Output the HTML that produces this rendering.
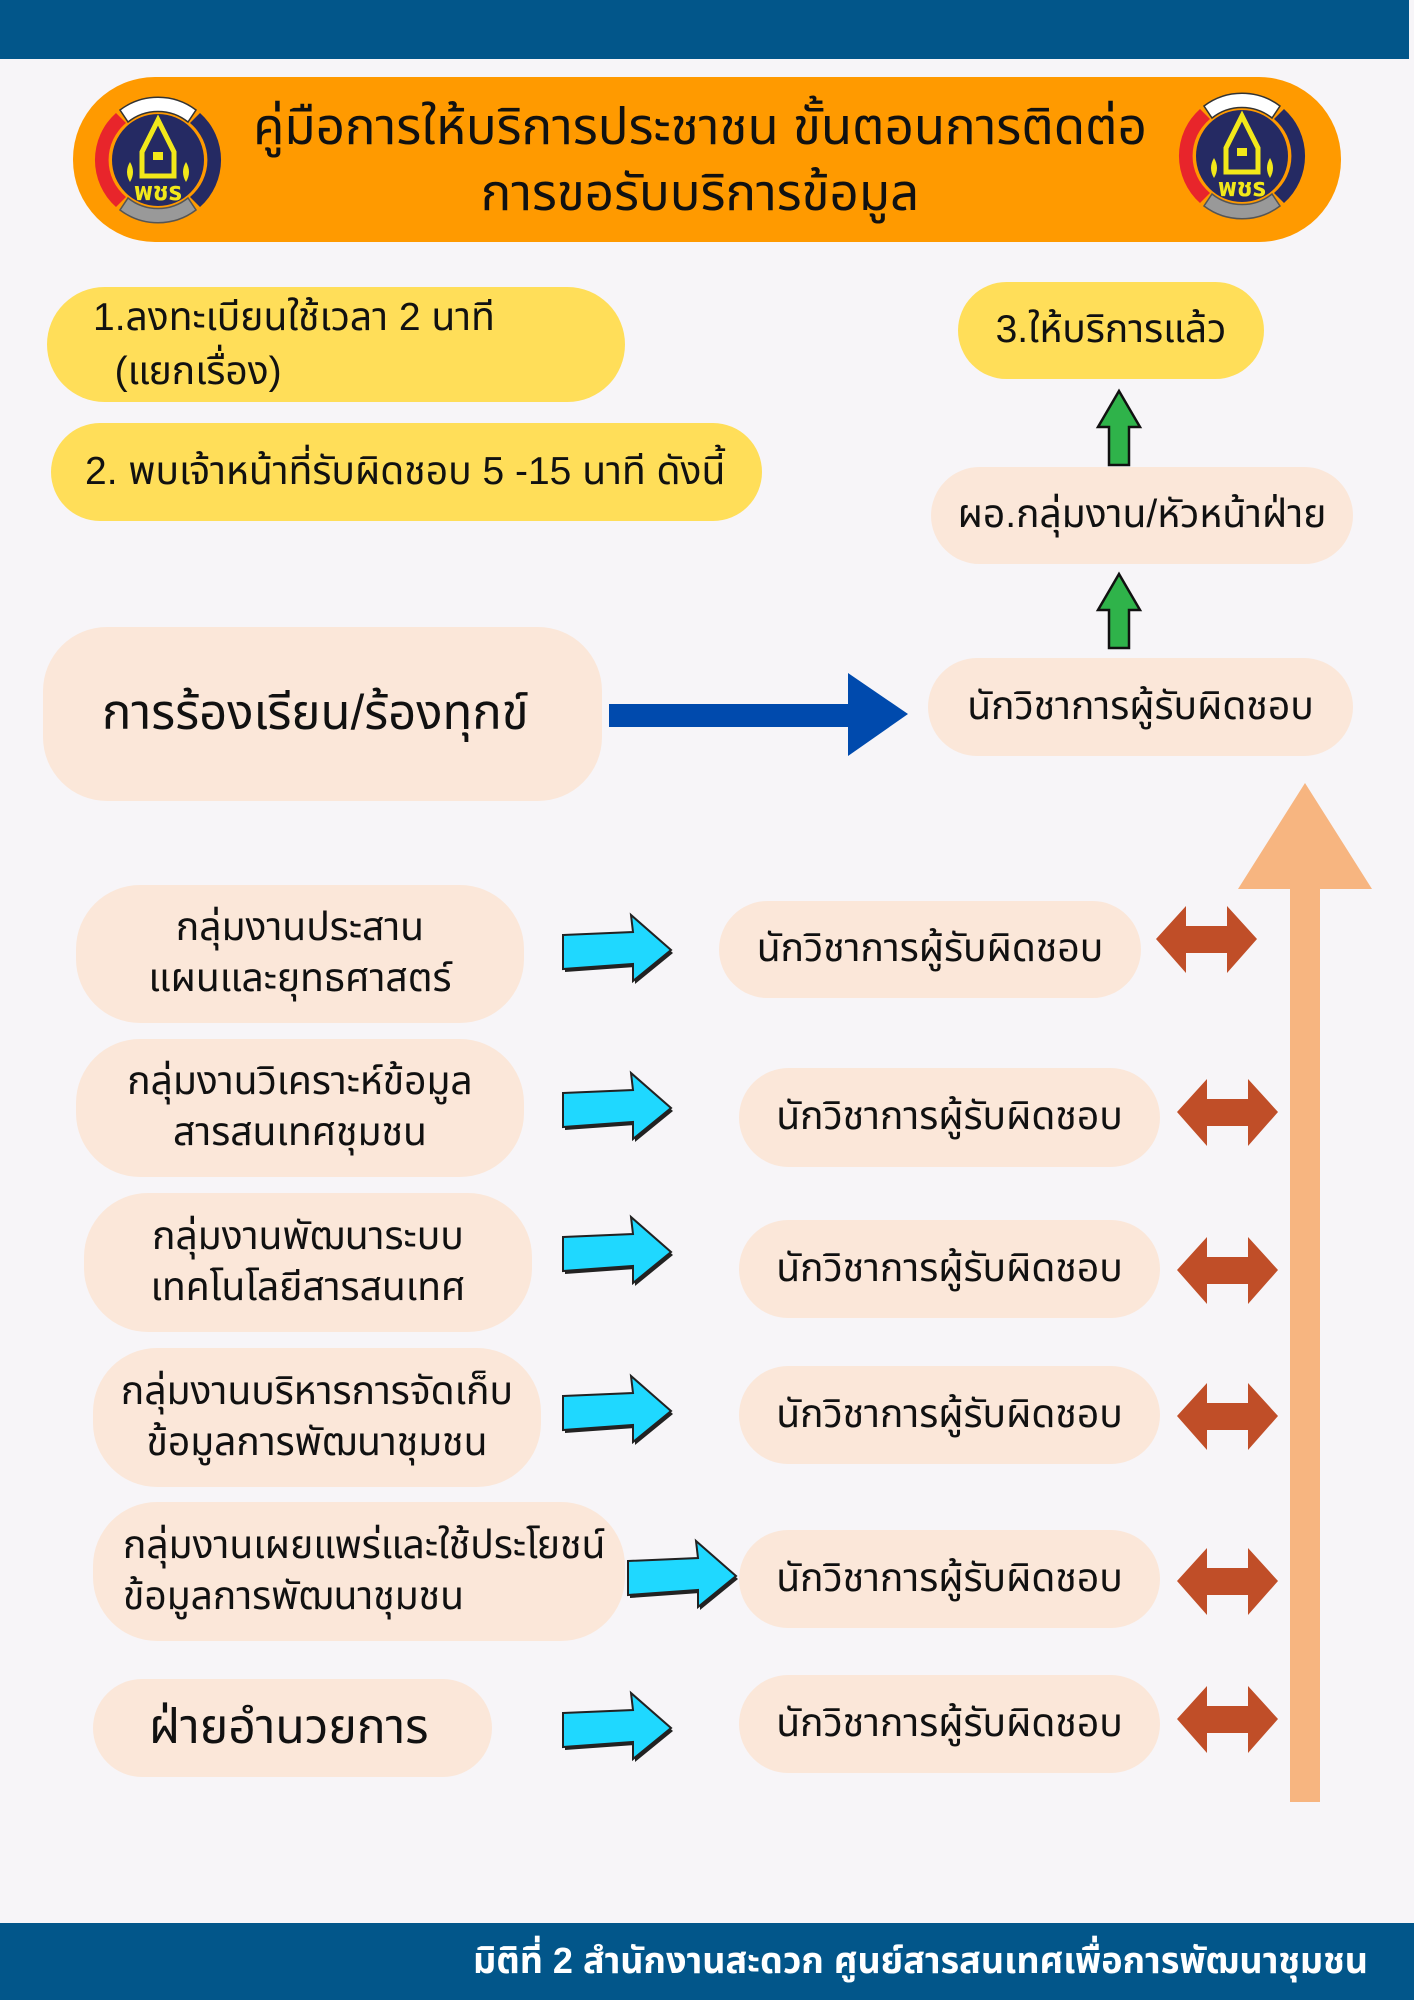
<!DOCTYPE html>
<html><head><meta charset="utf-8"><style>
*{margin:0;padding:0;box-sizing:border-box}
body{width:1414px;height:2000px;background:#f7f5f8;position:relative;overflow:hidden;font-family:"Liberation Sans","Noto Sans Thai","Loma","Garuda",sans-serif;color:#111}
.a{position:absolute}
.pill{position:absolute;background:#fbe7d9;border-radius:50px;display:flex;align-items:center;justify-content:center;text-align:center;font-size:39px;line-height:1.3;white-space:nowrap}
.y{background:#ffde59}
svg{position:absolute;overflow:visible}
</style></head><body>
<div class="a" style="left:0;top:0;width:1409px;height:59px;background:#02568a"></div>
<div class="a" style="left:0;top:1923px;width:1414px;height:77px;background:#02568a"></div>
<div class="a" style="right:46px;top:1938px;color:#fff;font-weight:bold;font-size:36px;line-height:46px;white-space:nowrap">มิติที่ 2 สำนักงานสะดวก ศูนย์สารสนเทศเพื่อการพัฒนาชุมชน</div>

<div class="a" style="left:73px;top:77px;width:1268px;height:165px;background:#ff9a00;border-radius:82px"></div>
<div class="a" style="left:200px;top:94px;width:1000px;text-align:center;font-size:51px;line-height:66px;white-space:nowrap">คู่มือการให้บริการประชาชน ขั้นตอนการติดต่อ<br>การขอรับบริการข้อมูล</div>

<svg width="0" height="0"><defs><g id="logo">
<circle r="66" fill="#ff9a00"/>
<path d="M-38,-50 A63,63 0 0 1 38,-50 L30,-38 A48,48 0 0 0 -30,-38Z" fill="#fff" stroke="#333" stroke-width="1.5"/>
<path d="M-42,-47 A63,63 0 0 0 -42,47 L-32,37 A48,48 0 0 1 -32,-37Z" fill="#e8252b"/>
<path d="M42,-47 A63,63 0 0 1 42,47 L32,37 A48,48 0 0 0 32,-37Z" fill="#252a63"/>
<path d="M-38,50 A63,63 0 0 0 38,50 L30,38 A48,48 0 0 1 -30,38Z" fill="#999" stroke="#555" stroke-width="1.5"/>
<circle r="46" fill="#252a63"/>
<path d="M0,-40 L-16,-8 L-16,16 L16,16 L16,-8Z" fill="none" stroke="#f2e81a" stroke-width="5"/>
<rect x="-5" y="-8" width="10" height="8" fill="#f2e81a"/>
<path d="M-28,22 q-6,-10 0,-20 q6,10 0,20M28,22 q-6,-10 0,-20 q6,10 0,20" fill="#f2e81a"/>
<text x="0" y="40" text-anchor="middle" font-size="26" font-weight="bold" fill="#f2e81a">พชร</text>
</g></defs></svg>
<svg width="140" height="140" style="left:88px;top:90px" viewBox="-70 -70 140 140"><use href="#logo"/></svg>
<svg width="140" height="140" style="left:1172px;top:86px" viewBox="-70 -70 140 140"><use href="#logo"/></svg>

<div class="pill y" style="left:47px;top:287px;width:578px;height:115px;justify-content:flex-start;padding-left:46px;text-align:left;line-height:54px;border-radius:58px">1.ลงทะเบียนใช้เวลา 2 นาที<br>&nbsp;&nbsp;(แยกเรื่อง)</div>
<div class="pill y" style="left:51px;top:423px;width:711px;height:98px;justify-content:flex-start;padding-left:34px;border-radius:49px">2. พบเจ้าหน้าที่รับผิดชอบ 5 -15 นาที ดังนี้</div>
<div class="pill y" style="left:958px;top:282px;width:306px;height:97px;border-radius:49px">3.ให้บริการแล้ว</div>

<div class="pill" style="left:931px;top:467px;width:422px;height:97px">ผอ.กลุ่มงาน/หัวหน้าฝ่าย</div>
<div class="pill" style="left:928px;top:658px;width:425px;height:98px">นักวิชาการผู้รับผิดชอบ</div>
<div class="pill" style="left:43px;top:627px;width:559px;height:174px;border-radius:64px;justify-content:flex-start;padding-left:59px;font-size:49px">การร้องเรียน/ร้องทุกข์</div>

<svg width="50" height="78" style="left:1094px;top:389px" viewBox="0 0 50 78"><polygon points="25,2 46,38 35,38 35,76 15,76 15,38 4,38" fill="#2fb34a" stroke="#111" stroke-width="2.5"/></svg>
<svg width="50" height="78" style="left:1094px;top:572px" viewBox="0 0 50 78"><polygon points="25,2 46,38 35,38 35,76 15,76 15,38 4,38" fill="#2fb34a" stroke="#111" stroke-width="2.5"/></svg>

<svg width="300" height="84" style="left:609px;top:673px"><polygon points="0,31 239,31 239,0 299,41 239,83 239,54 0,54" fill="#004aad"/></svg>

<svg width="134" height="1020" style="left:1238px;top:783px"><polygon points="67,0 134,106 82,106 82,1019 52,1019 52,106 0,106" fill="#f7b580"/></svg>

<div class="pill" style="left:76px;top:885px;width:448px;height:138px;border-radius:64px">กลุ่มงานประสาน<br>แผนและยุทธศาสตร์</div>
<div class="pill" style="left:76px;top:1039px;width:448px;height:138px;border-radius:64px">กลุ่มงานวิเคราะห์ข้อมูล<br>สารสนเทศชุมชน</div>
<div class="pill" style="left:84px;top:1193px;width:448px;height:139px;border-radius:64px">กลุ่มงานพัฒนาระบบ<br>เทคโนโลยีสารสนเทศ</div>
<div class="pill" style="left:93px;top:1348px;width:448px;height:139px;border-radius:64px">กลุ่มงานบริหารการจัดเก็บ<br>ข้อมูลการพัฒนาชุมชน</div>
<div class="pill" style="left:93px;top:1502px;width:532px;height:139px;border-radius:64px;justify-content:flex-start;text-align:left;padding-left:30px">กลุ่มงานเผยแพร่และใช้ประโยชน์<br>ข้อมูลการพัฒนาชุมชน</div>
<div class="pill" style="left:93px;top:1679px;width:399px;height:98px;justify-content:flex-start;padding-left:56px;font-size:48px">ฝ่ายอำนวยการ</div>

<div class="pill" style="left:719px;top:901px;width:422px;height:97px">นักวิชาการผู้รับผิดชอบ</div>
<div class="pill" style="left:739px;top:1068px;width:421px;height:99px">นักวิชาการผู้รับผิดชอบ</div>
<div class="pill" style="left:739px;top:1220px;width:421px;height:98px">นักวิชาการผู้รับผิดชอบ</div>
<div class="pill" style="left:739px;top:1366px;width:421px;height:98px">นักวิชาการผู้รับผิดชอบ</div>
<div class="pill" style="left:739px;top:1530px;width:421px;height:98px">นักวิชาการผู้รับผิดชอบ</div>
<div class="pill" style="left:739px;top:1675px;width:421px;height:98px">นักวิชาการผู้รับผิดชอบ</div>

<svg width="0" height="0"><defs>
<g id="cy"><polygon transform="translate(2,3)" points="2,22 72,19 70,2 110,37 72,68 72,51 2,56" fill="#222"/><polygon points="2,22 72,19 70,2 110,37 72,68 72,51 2,56" fill="#1fd8ff" stroke="#222" stroke-width="2"/></g>
<polygon id="dbl" points="0,33 30,0 30,20 71,20 71,0 101,33 71,67 71,47 30,47 30,67" fill="#c04e28"/>
</defs></svg>
<svg width="114" height="72" style="left:561px;top:913px"><use href="#cy"/></svg>
<svg width="114" height="72" style="left:561px;top:1071px"><use href="#cy"/></svg>
<svg width="114" height="72" style="left:561px;top:1215px"><use href="#cy"/></svg>
<svg width="114" height="72" style="left:561px;top:1374px"><use href="#cy"/></svg>
<svg width="114" height="72" style="left:626px;top:1539px"><use href="#cy"/></svg>
<svg width="114" height="72" style="left:561px;top:1691px"><use href="#cy"/></svg>

<svg width="102" height="68" style="left:1156px;top:906px"><use href="#dbl"/></svg>
<svg width="102" height="68" style="left:1177px;top:1079px"><use href="#dbl"/></svg>
<svg width="102" height="68" style="left:1177px;top:1237px"><use href="#dbl"/></svg>
<svg width="102" height="68" style="left:1177px;top:1383px"><use href="#dbl"/></svg>
<svg width="102" height="68" style="left:1177px;top:1548px"><use href="#dbl"/></svg>
<svg width="102" height="68" style="left:1177px;top:1686px"><use href="#dbl"/></svg>
</body></html>
